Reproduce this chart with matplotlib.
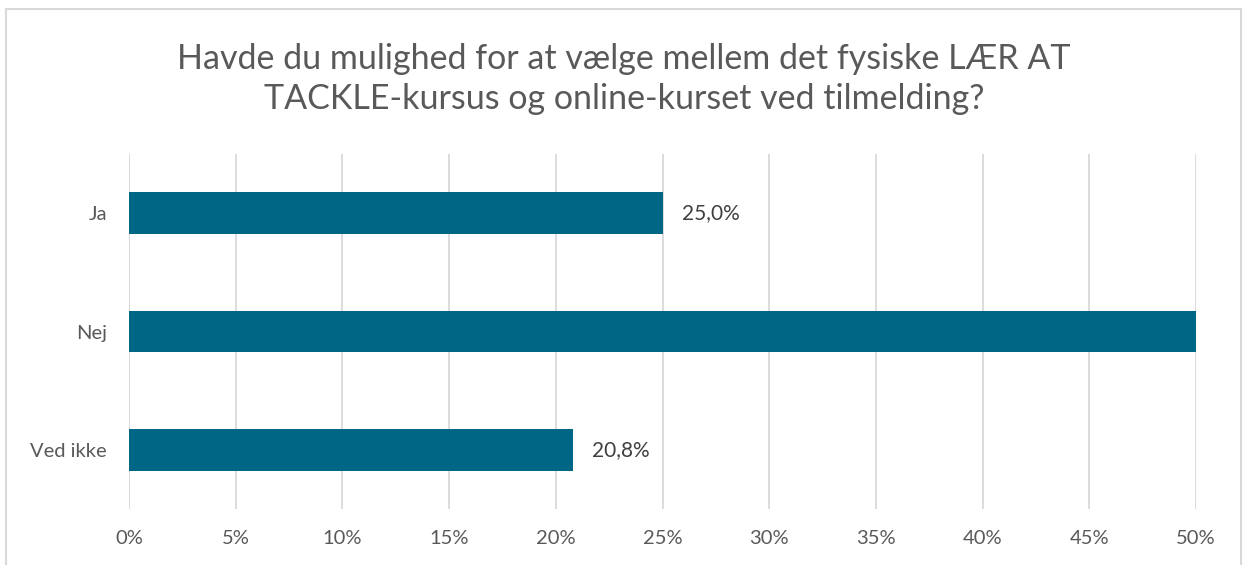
import matplotlib.pyplot as plt
from matplotlib.patches import Rectangle
from matplotlib.ticker import PercentFormatter

categories = ['Ja', 'Nej', 'Ved ikke']
values = [25.0, 54.2, 20.8]
xticks = [0, 5, 10, 15, 20, 25, 30, 35, 40, 45, 50]
title = 'Havde du mulighed for at vælge mellem det fysiske LÆR AT\nTACKLE-kursus og online-kurset ved tilmelding?'

plt.rcParams['font.family'] = ['Lato', 'DejaVu Sans']
grey = '#595959'
bar_color = '#006685'

fig = plt.figure(figsize=(12.43, 5.65), dpi=100)
# chart border
fig.patches.append(Rectangle((6 / 1243, -0.1), 1235 / 1243, 1 - 9 / 565 + 0.1,
                             transform=fig.transFigure, fill=False,
                             edgecolor='#d9d9d9', linewidth=1.5))

ax = fig.add_axes([129 / 1243, 1 - 509 / 565, 1067 / 1243, 355 / 565])
y = list(range(len(categories)))
bars = ax.barh(y, values, height=0.35, color=bar_color, zorder=3)
ax.set_ylim(len(categories) - 0.5, -0.5)
ax.set_xlim(0, 50)
ax.set_yticks(y)
ax.set_yticklabels(categories)
ax.set_xticks(xticks)
ax.xaxis.set_major_formatter(PercentFormatter(decimals=0))
ax.grid(axis='x', color='#d9d9d9', linewidth=1.3, zorder=0)
for s in ax.spines.values():
    s.set_visible(False)
ax.tick_params(axis='both', length=0, labelsize=14.5, labelcolor=grey)
ax.tick_params(axis='x', pad=15)
ax.tick_params(axis='y', pad=16)

labels = ax.bar_label(bars, labels=[f'{v:.1f}%'.replace('.', ',') for v in values],
                      padding=14, fontsize=15, color='#404040')
for t in labels:
    t.set_clip_on(True)

fig.text(0.502, 1 - 79 / 565, title, ha='center', va='center', fontsize=24.5,
         color=grey, linespacing=1.3)

fig.savefig('out.png', dpi=100)
